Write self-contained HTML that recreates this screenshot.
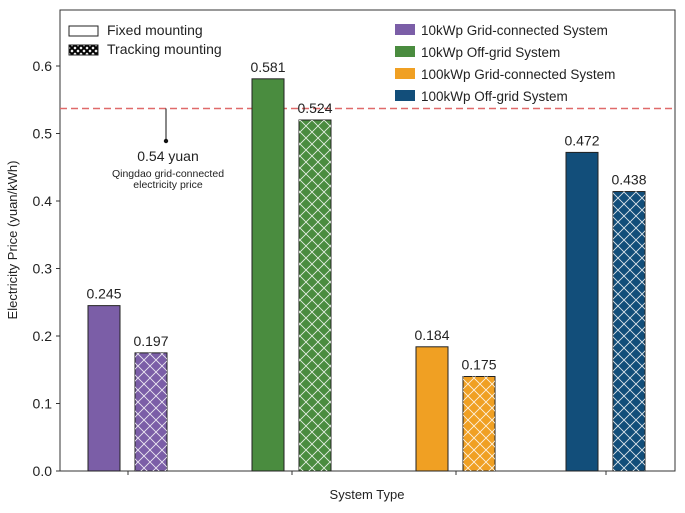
<!DOCTYPE html>
<html><head><meta charset="utf-8"><style>
body{margin:0;background:#fff;}
svg text{font-family:"Liberation Sans",Arial,sans-serif;fill:#222;}
</style></head><body>
<svg id="c" width="685" height="508" xmlns="http://www.w3.org/2000/svg">
<defs>
<pattern id="hx" width="12" height="12" patternUnits="userSpaceOnUse">
<path d="M0,0L12,12M12,0L0,12" stroke="#fff" stroke-width="0.9" opacity="0.85" fill="none"/>
</pattern>
<pattern id="hk" width="6" height="6" patternUnits="userSpaceOnUse">
<rect width="6" height="6" fill="#fff"/><path d="M0,0L6,6M6,0L0,6" stroke="#000" stroke-width="2"/>
</pattern>
</defs>
<g id="plot"></g>
</svg>
<script>
const categories=["10kWp Grid-connected System","10kWp Off-grid System","100kWp Grid-connected System","100kWp Off-grid System"];
const fixedValues=[0.245,0.581,0.184,0.472];
const trackingValues=[0.175,0.520,0.140,0.414];
const fixedLabels=["0.245","0.581","0.184","0.472"];
const trackingLabels=["0.197","0.524","0.175","0.438"];
const colors=["#7b5ea7","#4a8c3f","#f0a023","#124e7a"];
const yTicks=[0,0.1,0.2,0.3,0.4,0.5,0.6];
const refPrice=0.537;

const L=60,R=675,T=10,B=471;
const ns="http://www.w3.org/2000/svg";
const g=document.getElementById('plot');
function y(v){return B-v*675;}
function xc(i){return 128+i*164-(i>2?14:0);}
function el(t,a,txt){const e=document.createElementNS(ns,t);for(const k in a)e.setAttribute(k,a[k]);if(txt!=null)e.textContent=txt;g.appendChild(e);return e;}

let e=el('rect',{x:L,y:T,width:R-L,height:B-T,fill:'none',stroke:'#333','stroke-width':1});



yTicks.forEach(v=>{
 let t=el('line',{x1:L-4,x2:L,y1:y(v),y2:y(v),stroke:'#333'});
 
 
 let l=el('text',{x:L-8,y:y(v)+5,'text-anchor':'end','font-size':14},v.toFixed(1));
 
 
});

e=el('line',{x1:L,x2:R,y1:y(refPrice),y2:y(refPrice),stroke:'#e06a6a','stroke-width':1.5,'stroke-dasharray':'7,4'});


e=el('line',{x1:166,x2:166,y1:y(refPrice),y2:141,stroke:'#111','stroke-width':1});


e=el('circle',{cx:166,cy:141,r:2.2,fill:'#111'});


e=el('text',{x:168,y:161,'text-anchor':'middle','font-size':14},'0.54 yuan');


e=el('text',{x:168,y:177,'text-anchor':'middle','font-size':10.5},'Qingdao grid-connected');


e=el('text',{x:168,y:188,'text-anchor':'middle','font-size':10.5},'electricity price');



const bw=32;
categories.forEach((c,i)=>{
 const cx=xc(i);
 let t=el('line',{x1:cx,x2:cx,y1:B,y2:B+4,stroke:'#333'});
 
 
 let x1=cx-40,x2=cx+7;
 let b=el('rect',{x:x1,y:y(fixedValues[i]),width:bw,height:B-y(fixedValues[i]),fill:colors[i],stroke:'#222','stroke-width':1});
 
 
 b=el('rect',{x:x2,y:y(trackingValues[i]),width:bw,height:B-y(trackingValues[i]),fill:colors[i],stroke:'#222','stroke-width':1});
 
 
 b=el('rect',{x:x2,y:y(trackingValues[i]),width:bw,height:B-y(trackingValues[i]),fill:'url(#hx)'});
 
 
 let lb=el('text',{x:x1+bw/2,y:y(fixedValues[i])-7,'text-anchor':'middle','font-size':14},fixedLabels[i]);
 
 
 lb=el('text',{x:x2+bw/2,y:y(trackingValues[i])-7,'text-anchor':'middle','font-size':14},trackingLabels[i]);
 
 
 let ly=30+i*22;
 let s=el('rect',{x:395,y:ly-6,width:20,height:11,fill:colors[i]});
 
 
 let lt=el('text',{x:421,y:ly+5,'font-size':13.5},c);
 
 
});

e=el('rect',{x:69,y:26,width:29,height:10,fill:'#fff',stroke:'#222'});


e=el('text',{x:107,y:35,'font-size':14},'Fixed mounting');


e=el('rect',{x:69,y:45,width:29,height:10,fill:'url(#hk)',stroke:'#222'});


e=el('text',{x:107,y:54,'font-size':14},'Tracking mounting');



e=el('text',{x:367,y:499,'text-anchor':'middle','font-size':13},'System Type');


e=el('text',{x:0,y:0,'text-anchor':'middle','font-size':13,transform:'translate(17,240) rotate(-90)'},'Electricity Price (yuan/kWh)');


</script>
</body></html>
